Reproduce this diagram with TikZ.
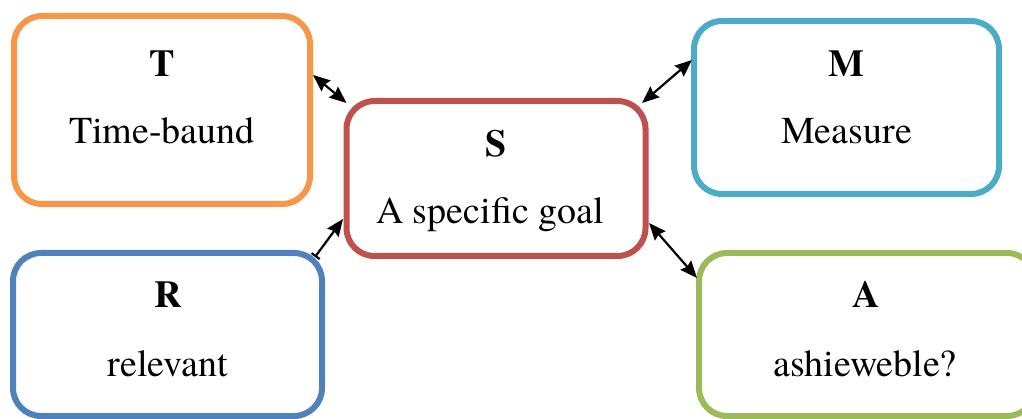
\documentclass[tikz,border=0pt]{standalone}
\usepackage{fontspec}
\IfFontExistsTF{texgyretermes-regular.otf}{%
  \setmainfont{texgyretermes}[Extension=.otf,UprightFont=*-regular,BoldFont=*-bold,ItalicFont=*-italic,BoldItalicFont=*-bolditalic]%
  \newcommand\fsz{\fontsize{38}{45}\selectfont}}{%
  \newcommand\fsz{\fontsize{34}{45}\selectfont}}
\usetikzlibrary{calc,arrows.meta}
\definecolor{cT}{HTML}{F79646}
\definecolor{cS}{HTML}{C0504D}
\definecolor{cM}{HTML}{4BACC6}
\definecolor{cR}{HTML}{4F81BD}
\definecolor{cA}{HTML}{9BBB59}
\begin{document}
\begin{tikzpicture}[x=1pt,y=-1pt,
  card/.style={draw=#1,line width=6pt,rounded corners=28pt,fill=white,inner sep=0pt,outer sep=0pt},
  txt/.style={anchor=base,inner sep=0pt,font=\fsz},
  ttl/.style={anchor=base,inner sep=0pt,font=\bfseries\fsz},
  link/.style={line width=2.2pt,{Stealth[length=17pt,width=14pt,inset=2pt]}-{Stealth[length=17pt,width=14pt,inset=2pt]}},
  link1/.style={line width=2.2pt,{Bar[width=10pt]}-{Stealth[length=17pt,width=14pt,inset=2pt]}}]
\useasboundingbox (0,0) rectangle (1022,419);
\clip (0,0) rectangle (1022,419);
\node[card=cT,minimum width=296pt,minimum height=188pt] (T) at (162,110) {};
\node[card=cS,minimum width=299pt,minimum height=155pt] (S) at (496,178.5) {};
\node[card=cM,minimum width=305pt,minimum height=173pt] (M) at (846.5,107.5) {};
\node[card=cR,minimum width=309pt,minimum height=163pt] (R) at (167.5,334.5) {};
\node[card=cA,minimum width=336pt,minimum height=163pt] (A) at (867,334.5) {};
\node[ttl] (tT) at (162,77) {T};
\node[txt] (tT2) at (162,144) {Time-baund};
\node[ttl] (tS) at (496,157) {S};
\node[txt] (tS2) at (490,224) {A specific goal};
\node[ttl] (tM) at (846,77) {M};
\node[txt] (tM2) at (846.5,144) {Measure};
\node[ttl] (tR) at (168,308) {R};
\node[txt] (tR2) at (168,376) {relevant};
\node[ttl] (tA) at (866,308) {A};
\node[txt] (tA2) at (865,376) {ashieweble?};
\draw[link] ($(T.east)+(3,-35)$) -- ($(S.north west)+(0,2)$);
\draw[link] ($(M.west)+(-2,-47.5)$) -- ($(S.north east)+(-3.5,2)$);
\draw[link1] ($(R.north east)+(-7,4)$) -- ($(S.west)+(-3.5,40.5)$);
\draw[link] ($(S.east)+(3.5,44.5)$) -- ($(A.west)+(-2,-56.5)$);
\end{tikzpicture}
\end{document}
